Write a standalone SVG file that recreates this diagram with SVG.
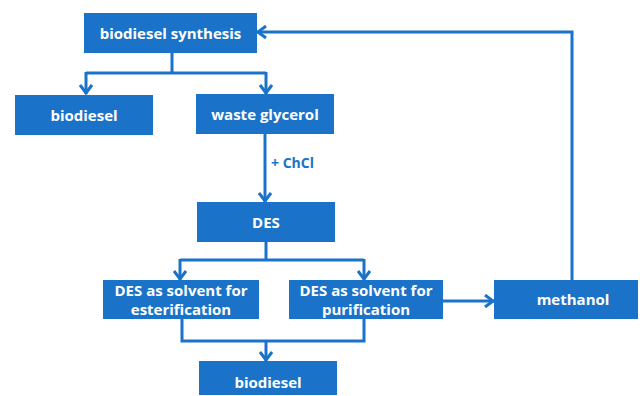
<svg xmlns="http://www.w3.org/2000/svg" width="640" height="396" viewBox="0 0 640 396">
<style>
.box{fill:#1a73c8}
.t{font-family:"Open Sans","Liberation Sans",sans-serif;font-weight:bold;font-size:15px;fill:#fff;text-anchor:middle}
.lbl{font-family:"Open Sans","Liberation Sans",sans-serif;font-weight:bold;font-size:14px;fill:#1a73c8}
.c{fill:none;stroke:#1a73c8;stroke-width:3}
</style>
<defs>
<marker id="ah" markerUnits="userSpaceOnUse" viewBox="0 0 12 14" refX="11" refY="7" markerWidth="12" markerHeight="14" orient="auto">
<path d="M2,1 L10,7 L2,13" fill="none" stroke="#1a73c8" stroke-width="3"/>
</marker>
</defs>
<rect width="640" height="396" fill="#fff"/>
<g id="connectors">
<path class="c" d="M172,53 V73"/>
<path class="c" d="M86,73 H266"/>
<path class="c" d="M86,72 V94" marker-end="url(#ah)"/>
<path class="c" d="M266,72 V94" marker-end="url(#ah)"/>
<path class="c" d="M265,134 V202" marker-end="url(#ah)"/>
<path class="c" d="M266,242 V260"/>
<path class="c" d="M180,260 H364"/>
<path class="c" d="M180,259 V280" marker-end="url(#ah)"/>
<path class="c" d="M364,259 V280" marker-end="url(#ah)"/>
<path class="c" d="M182,319 V341 H364 V319"/>
<path class="c" d="M266,341 V361" marker-end="url(#ah)"/>
<path class="c" d="M443,301 H494" marker-end="url(#ah)"/>
<path class="c" d="M572,280 V32 H257" marker-end="url(#ah)"/>
</g>
<text class="lbl" x="271" y="168">+ ChCl</text>
<g id="n_synth"><rect class="box" x="84" y="13" width="173" height="40"/><text class="t" x="170.5" y="39">biodiesel synthesis</text></g>
<g id="n_biodiesel1"><rect class="box" x="15" y="95" width="138" height="40"/><text class="t" x="84" y="121">biodiesel</text></g>
<g id="n_glycerol"><rect class="box" x="196" y="94" width="138" height="40"/><text class="t" x="265" y="120">waste glycerol</text></g>
<g id="n_des"><rect class="box" x="197" y="202" width="138" height="40"/><text class="t" x="266" y="228">DES</text></g>
<g id="n_ester"><rect class="box" x="103" y="280" width="156" height="39"/><text class="t" x="181" y="296">DES as solvent for</text><text class="t" x="181" y="315">esterification</text></g>
<g id="n_purif"><rect class="box" x="289" y="280" width="154" height="39"/><text class="t" x="366" y="296">DES as solvent for</text><text class="t" x="366" y="315">purification</text></g>
<g id="n_methanol"><rect class="box" x="494" y="280" width="144" height="39"/><text class="t" x="573" y="305">methanol</text></g>
<g id="n_biodiesel2"><rect class="box" x="199" y="361" width="138" height="34"/><text class="t" x="268" y="388">biodiesel</text></g>
</svg>
